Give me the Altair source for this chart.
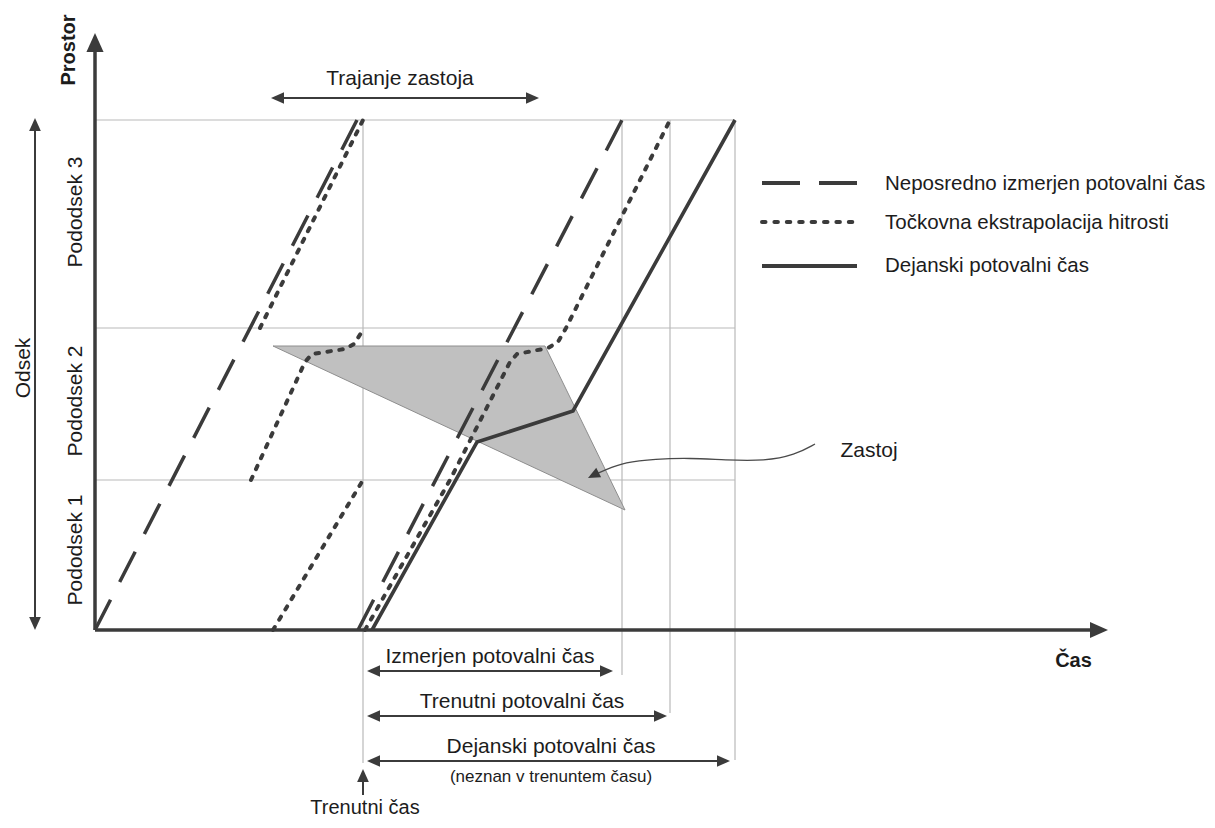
import altair as alt
import numpy as np
import pandas as pd

# ---------------- data: time (t) / space (s) coordinates ----------------
sub_bounds = [150, 302, 510]            # upper ends of Pododsek 1, 2, 3
t_now = 268                             # Trenutni čas
t_ends = [527, 575, 640]                # end of measured / instantaneous / actual travel time
grid_drop = [-133, -45, -83, -130]      # how far the vertical guides go below the time axis

dashed_a_t = [0, 262]
dashed_a_s = [0, 510]
dashed_b_t = [263, 527]
dashed_b_s = [0, 510]

dotted_a1_t = [178, 268]
dotted_a1_s = [0, 150]
dotted_a2_t = [156, 210, 217, 250, 259, 268]
dotted_a2_s = [150, 268, 276, 281, 286, 300]
dotted_a3_t = [165, 268]
dotted_a3_s = [302, 510]
dotted_b_t = [270, 355, 415, 422, 453, 463, 471, 575]
dotted_b_s = [0, 150, 268, 276, 282, 288, 302, 510]

solid_t = [277, 382, 478, 640]
solid_s = [0, 188, 219, 510]

jam_t = [178, 450, 530]
jam_s = [284, 284, 120]

zastoj_curve_t = [720, 700, 670, 630, 595, 560, 530, 510, 497]
zastoj_curve_s = [186, 175, 169, 170, 172, 171, 168, 160, 154]

legend_labels = ["Neposredno izmerjen potovalni čas", "Točkovna ekstrapolacija hitrosti", "Dejanski potovalni čas"]
legend_line_t = [667, 762]
legend_line_s = [447, 408, 364]
legend_text_s = [440, 401, 358]
legend_text_t = 790

dim_labels = ["Izmerjen potovalni čas", "Trenutni potovalni čas", "Dejanski potovalni čas"]
dim_arrow_s = [-41, -86, -131]
dim_arrow_end = [518, 572, 635]
dim_text_t = [395, 427, 456]
dim_text_s = [-33, -78, -123]

sub_labels = ["Pododsek 1", "Pododsek 2", "Pododsek 3"]
sub_label_s = [80, 229, 418]

# ---------------- style ----------------
DARK = "#3b3b3b"
GRID = "#b9b9b9"
TXT = "#1c1c1c"
FONT = "Liberation Sans"

X = alt.X("t:Q", scale=alt.Scale(domain=[-87, 1112], nice=False, zero=False), axis=None)
Y = alt.Y("s:Q", scale=alt.Scale(domain=[-190, 622], nice=False, zero=False), axis=None)

ARROW = "M0,0L-1,-0.45L-1,0.45Z"


def poly(name, ts, ss):
    return pd.DataFrame({"id": name, "i": list(range(len(ts))), "t": ts, "s": ss})


def lines(df, **kw):
    return alt.Chart(df).mark_line(**kw).encode(X, Y, detail="id:N", order="i:Q")


def rules(rows, **kw):
    df = pd.DataFrame(rows, columns=["t", "s", "t2", "s2"])
    return alt.Chart(df).mark_rule(**kw).encode(X, Y, x2="t2:Q", y2="s2:Q")


def texts(labels, ts, ss, **kw):
    df = pd.DataFrame({"label": labels, "t": ts, "s": ss})
    base = dict(font=FONT, color=TXT, baseline="alphabetic")
    base.update(kw)
    return alt.Chart(df).mark_text(**base).encode(X, Y, text="label:N")


# grid / guide lines
grid_rows = [(0, s, 640, s) for s in sub_bounds]
for tv, drop in zip([t_now] + t_ends, grid_drop):
    grid_rows.append((tv, 510, tv, drop))
grid = rules(grid_rows, color=GRID, strokeWidth=1.2)

# jam triangle as area between top edge and the lower edge
lower = np.interp(jam_t, [jam_t[0], jam_t[2]], [jam_s[0], jam_s[2]])
tri_df = pd.DataFrame({"t": jam_t, "s": jam_s, "s2": lower})
tri = alt.Chart(tri_df).mark_area(fill="#c0c0c0", stroke="#8e8e8e", strokeWidth=1, opacity=1).encode(X, Y, y2="s2:Q")

# series
dashed_df = pd.concat([poly("a", dashed_a_t, dashed_a_s), poly("b", dashed_b_t, dashed_b_s)])
dotted_df = pd.concat([
    poly("a1", dotted_a1_t, dotted_a1_s),
    poly("a2", dotted_a2_t, dotted_a2_s),
    poly("a3", dotted_a3_t, dotted_a3_s),
    poly("b", dotted_b_t, dotted_b_s),
])
solid_df = poly("s", solid_t, solid_s)

dashed = lines(dashed_df, color=DARK, strokeWidth=3.5, strokeDash=[34, 20])
dotted = lines(dotted_df, color=DARK, strokeWidth=4, strokeDash=[3.5, 8.5], strokeCap="round")
solid = lines(solid_df, color=DARK, strokeWidth=3.6, strokeJoin="miter")

# legend samples
leg_dash = lines(poly("l1", legend_line_t, [legend_line_s[0]] * 2), color=DARK, strokeWidth=4, strokeDash=[38, 19])
leg_dot = lines(poly("l2", legend_line_t, [legend_line_s[1]] * 2), color=DARK, strokeWidth=4,
                strokeDash=[3.5, 8.9], strokeCap="round")
leg_solid = lines(poly("l3", legend_line_t, [legend_line_s[2]] * 2), color=DARK, strokeWidth=4)

# zastoj curve
curve = lines(poly("c", zastoj_curve_t, zastoj_curve_s), color="#4a4a4a", strokeWidth=1.3, interpolate="basis")

# axes and dimension arrows (shafts)
axis_rows = [(0, 0, 998, 0), (0, 0, 0, 580)]
axes = rules(axis_rows, color=DARK, strokeWidth=3.5)

shaft_rows = [(182, 532, 438, 532), (-60, 6, -60, 506), (t_now, -165, t_now, -145)]
for s_, e_ in zip(dim_arrow_s, dim_arrow_end):
    shaft_rows.append((t_now + 10, s_, e_ - 6, s_))
shafts = rules(shaft_rows, color=DARK, strokeWidth=2)

# arrow heads (tip position, direction, length)
heads_t = [176, 444] + [t_now + 4, dim_arrow_end[0], t_now + 4, dim_arrow_end[1], t_now + 4, dim_arrow_end[2]] + \
          [t_now, -60, -60, 0, 1013, 493]
heads_s = [532, 532] + [dim_arrow_s[0]] * 2 + [dim_arrow_s[1]] * 2 + [dim_arrow_s[2]] * 2 + \
          [-139, 512, 0, 597, 0, 152]
heads_angle = [180, 0, 180, 0, 180, 0, 180, 0, 270, 270, 90, 270, 0, 153]
heads_len = [13] * 11 + [19, 18, 12]
heads_df = pd.DataFrame({"t": heads_t, "s": heads_s, "angle": heads_angle,
                         "size": [(2 * l) ** 2 for l in heads_len]})
heads = alt.Chart(heads_df).mark_point(shape=ARROW, filled=True, fill=DARK, strokeWidth=0, opacity=1).encode(
    X, Y, size=alt.Size("size:Q", scale=None), angle=alt.Angle("angle:Q", scale=None))

# texts
t_legend = texts(legend_labels, [legend_text_t] * 3, legend_text_s, fontSize=20.5, align="left")
t_dims = texts(dim_labels, dim_text_t, dim_text_s, fontSize=21, align="center")
t_unknown = texts(["(neznan v trenuntem času)"], [456], [-152], fontSize=17, align="center")
t_now_lbl = texts(["Trenutni čas"], [270], [-184], fontSize=20, align="center")
t_jam = texts(["Trajanje zastoja"], [305], [545], fontSize=21, align="center")
t_zastoj = texts(["Zastoj"], [774], [173], fontSize=21, align="center")
t_cas = texts(["Čas"], [978.5], [-37], fontSize=20, fontWeight="bold", align="center")
t_prostor = texts(["Prostor"], [-20], [580], fontSize=20, fontWeight="bold", align="center", angle=270)
t_subs = texts(sub_labels, [-13.5] * 3, sub_label_s, fontSize=21, align="center", angle=270)
t_odsek = texts(["Odsek"], [-65], [262], fontSize=21, align="center", angle=270)

chart = alt.layer(
    grid, tri, dashed, dotted, solid, leg_dash, leg_dot, leg_solid, curve, axes, shafts, heads,
    t_legend, t_dims, t_unknown, t_now_lbl, t_jam, t_zastoj, t_cas, t_prostor, t_subs, t_odsek,
).properties(
    width=1199, height=812, autosize=alt.AutoSizeParams(type="none"), padding=0,
    background="white",
).configure_view(stroke=None)

chart.save("out.html", embed_options={"renderer": "svg", "actions": False})
